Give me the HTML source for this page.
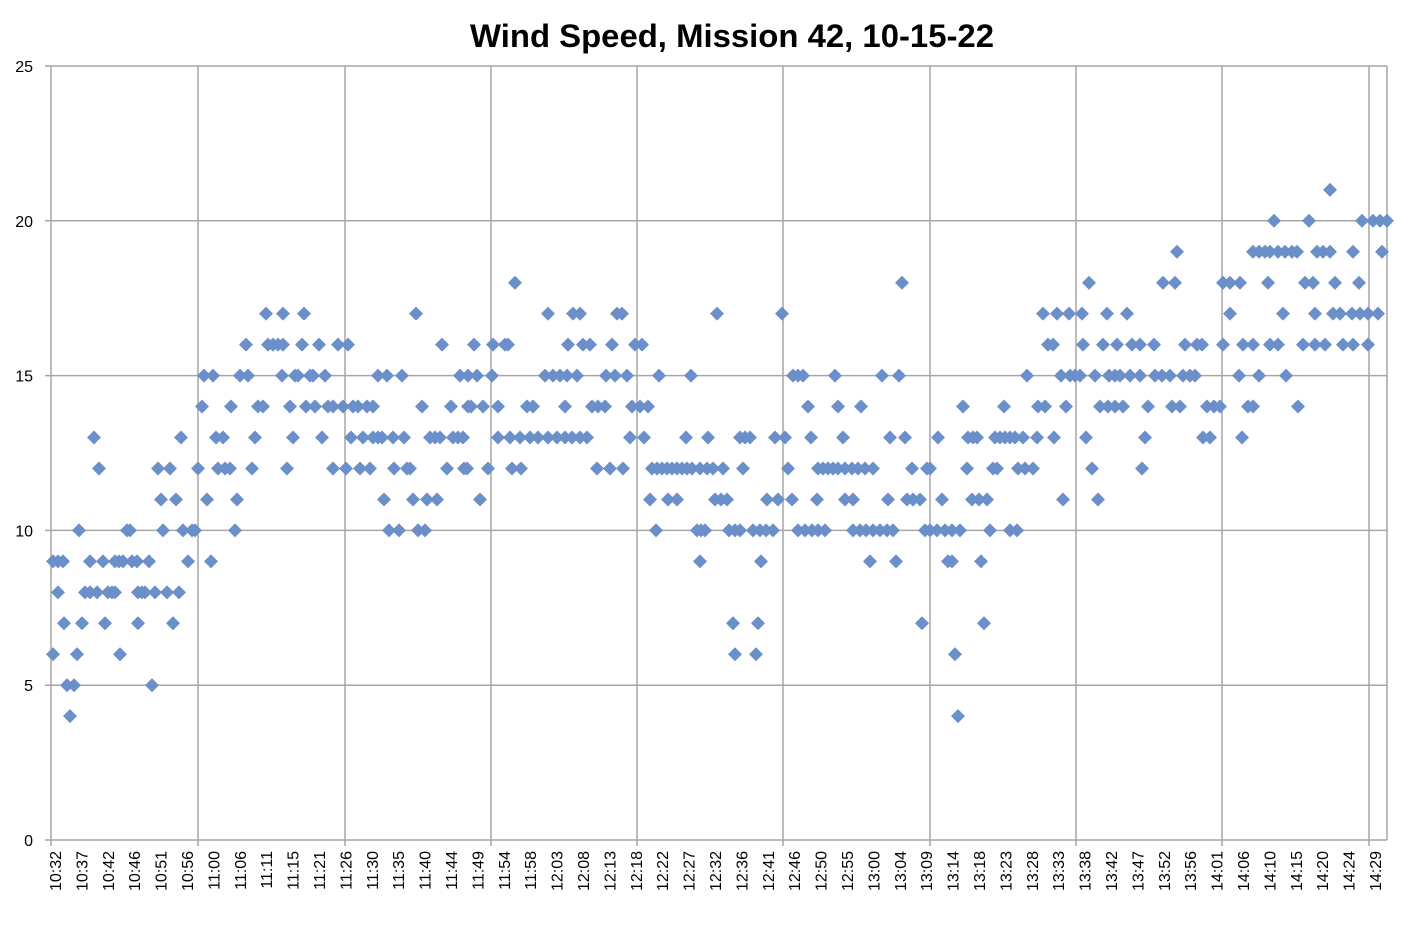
<!DOCTYPE html>
<html><head><meta charset="utf-8"><style>
html,body{margin:0;padding:0;background:#fff;}
svg{display:block;font-family:"Liberation Sans",Arial,sans-serif;}
</style></head><body>
<svg id="c" width="1404" height="934" viewBox="0 0 1404 934" xmlns="http://www.w3.org/2000/svg">
<text x="732" y="47" text-anchor="middle" font-size="32" font-weight="bold" fill="#000" textLength="524" lengthAdjust="spacingAndGlyphs">Wind Speed, Mission 42, 10-15-22</text>
<g id="grid" stroke="#a6a6a6" stroke-width="1.5" fill="none"></g>
<g id="ylab" font-size="16" fill="#000" text-anchor="end"></g>
<g id="xlab" font-size="16" fill="#000"></g>
<g id="pts" fill="#6b8fc9"></g>
</svg>
<script>
var NS="http://www.w3.org/2000/svg";
function el(t,a,p,txt){var e=document.createElementNS(NS,t);for(var k in a)e.setAttribute(k,a[k]);if(txt)e.textContent=txt;document.getElementById(p).appendChild(e);return e;}
var L=51,R=1387,T=66,B=840;
function Y(v){return B-v*(B-T)/25;}
for(var v=0;v<=25;v+=5){el('line',{x1:L-6,x2:R,y1:Y(v),y2:Y(v)},'grid');el('text',{x:33,y:Y(v)+6},'ylab',''+v);}
var gx=[51,198,345,491,637,783,930,1076,1222,1369];
gx.forEach(function(x){el('line',{x1:x,x2:x,y1:T,y2:B+6},'grid');});
el('line',{x1:R,x2:R,y1:T,y2:B},'grid');
var labs="10:32,10:37,10:42,10:46,10:51,10:56,11:00,11:06,11:11,11:15,11:21,11:26,11:30,11:35,11:40,11:44,11:49,11:54,11:58,12:03,12:08,12:13,12:18,12:22,12:27,12:32,12:36,12:41,12:46,12:50,12:55,13:00,13:04,13:09,13:14,13:18,13:23,13:28,13:33,13:38,13:42,13:47,13:52,13:56,14:01,14:06,14:10,14:15,14:20,14:24,14:29".split(',');
labs.forEach(function(s,i){var x=55+i*26.4+6;el('text',{x:x,y:851,transform:'rotate(-90 '+x+' 851)','text-anchor':'end'},'xlab',s);});
var D={
21:[1330],
20:[1274,1309,1362,1373,1380,1387],
19:[1177,1253,1259,1265,1270,1278,1285,1292,1297,1317,1323,1330,1353,1382],
18:[515,902,1089,1163,1175,1223,1230,1240,1268,1305,1313,1335,1359],
17:[266,283,304,416,548,573,580,617,622,717,782,1043,1057,1069,1082,1107,1127,1230,1283,1315,1333,1340,1352,1360,1368,1378],
16:[246,268,273,278,283,302,319,338,348,442,474,493,505,508,568,583,590,612,635,642,1048,1053,1083,1103,1117,1132,1140,1154,1185,1197,1202,1223,1243,1253,1270,1278,1303,1315,1325,1343,1353,1368],
15:[204,213,240,248,282,295,298,310,313,325,378,387,402,460,468,477,492,545,553,560,567,577,606,615,627,659,691,793,798,803,835,882,899,1027,1061,1070,1075,1080,1095,1109,1115,1120,1130,1140,1155,1162,1170,1183,1190,1195,1239,1259,1286],
14:[202,231,258,263,290,306,315,328,333,343,353,358,367,373,422,451,468,471,483,498,527,533,565,592,598,605,632,640,648,808,838,861,963,1004,1038,1045,1066,1100,1108,1115,1123,1148,1172,1180,1207,1214,1220,1248,1253,1298],
13:[94,181,216,223,255,293,322,351,363,373,378,382,393,404,430,435,440,453,458,463,498,510,520,530,538,548,557,565,572,580,587,630,644,686,708,740,745,750,775,785,811,843,890,905,938,968,973,977,995,1000,1005,1010,1015,1023,1037,1054,1086,1145,1203,1210,1242],
12:[99,158,170,198,218,225,230,252,287,333,346,360,370,394,407,410,447,464,467,488,512,521,597,610,623,652,657,662,667,672,677,682,687,692,700,707,713,723,743,788,818,823,828,833,838,845,852,858,865,873,912,927,930,967,993,997,1018,1025,1033,1092,1142],
11:[161,176,207,237,384,413,427,437,480,650,668,677,715,721,727,767,778,792,817,845,853,888,907,913,920,942,972,979,987,1063,1098],
10:[79,127,130,163,183,192,195,235,389,399,418,425,656,697,701,705,729,735,740,753,760,766,773,798,805,812,818,825,853,860,866,873,880,887,893,925,930,937,945,952,960,990,1010,1017],
9:[53,58,63,90,103,115,119,123,132,137,149,188,211,700,761,870,896,948,952,981],
8:[58,85,90,97,108,112,115,138,142,145,155,167,179],
7:[64,82,105,138,173,733,758,922,984],
6:[53,77,120,735,756,955],
5:[67,74,152],
4:[70,958]
};
var s=7;
for(var v in D){var y=Y(+v);D[v].forEach(function(x){el('polygon',{points:(x)+','+(y-s)+' '+(x+s)+','+y+' '+x+','+(y+s)+' '+(x-s)+','+y},'pts');});}
</script>
</body></html>
